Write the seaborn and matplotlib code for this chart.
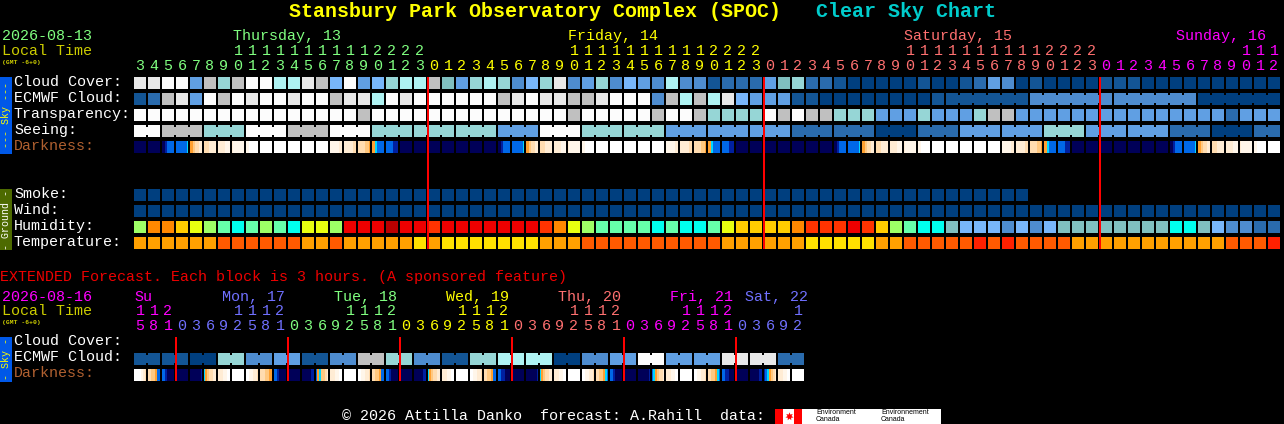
import numpy as np
import matplotlib
matplotlib.use('Agg')
import matplotlib.pyplot as plt
from matplotlib.colors import ListedColormap
from matplotlib.patches import Rectangle
import seaborn as sns

W, H = 1284, 424
PX = 72 / 100  # one pixel in points at dpi 100

# cell colours, one letter per block
palette = {
    'N': '#003f7f', 'M': '#135595', 'B': '#2a6bad', 'C': '#4e8ccf', 'D': '#609fe3', 'E': '#78b6fa',
    'T': '#80bfbf', 'U': '#96d6d6', 'V': '#aef2f2', 'G': '#c0c0c0', 'L': '#e8e8e8', 'W': '#fcfcfc',
    # humidity
    'f': '#9eff66', 'g': '#66ffaa', 'h': '#00ffee', 'i': '#e8ff10', 'j': '#ffcc00', 'k': '#ff8800',
    'l': '#ff3300', 'm': '#ee0000', 'n': '#bb0000',
    # temperature
    'x': '#ffa000', 'y': '#ff5a00', 'z': '#ffe000', 'X': '#ff2000',
    # darkness
    'a': '#000058', 'b': '#0020a0', 'c': '#0068e8', 'd': '#00d8ff', 'o': '#ffa030', 'p': '#ffc880',
    'q': '#ffdcb0', 'r': '#ffecd4', 's': '#fff6ea', 'w': '#ffffff',
}

hours_main = [3, 4, 5, 6, 7, 8, 9, 10, 11, 12, 13, 14, 15, 16, 17, 18, 19, 20, 21, 22, 23,
              0, 1, 2, 3, 4, 5, 6, 7, 8, 9, 10, 11, 12, 13, 14, 15, 16, 17, 18, 19, 20, 21, 22, 23,
              0, 1, 2, 3, 4, 5, 6, 7, 8, 9, 10, 11, 12, 13, 14, 15, 16, 17, 18, 19, 20, 21, 22, 23,
              0, 1, 2, 3, 4, 5, 6, 7, 8, 9, 10, 11, 12]
hours_ext = [15, 18, 21,
             0, 3, 6, 9, 12, 15, 18, 21,
             0, 3, 6, 9, 12, 15, 18, 21,
             0, 3, 6, 9, 12, 15, 18, 21,
             0, 3, 6, 9, 12, 15, 18, 21,
             0, 3, 6, 9, 12, 15, 18, 21,
             0, 3, 6, 9, 12]

GREEN, YELLOW, PINK, MAGENTA, BLUE = '#80ff80', '#ffff00', '#ff7070', '#ff00ff', '#7070ff'
colors_main = [GREEN, YELLOW, PINK, MAGENTA]
colors_ext = [MAGENTA, BLUE, GREEN, YELLOW, PINK, MAGENTA, BLUE]

cloud = 'LLWWDGUGWWVVLGEWDEUVV' 'GTDUVUCEULCDUCEDCVCCMBBB' 'DTUBBMNNNNNMNNMBDCNMNNNN' 'MMMNNNNNNNNNN'
ecmwf = 'MBGLDWGWLWWLWWGLLVWLW' 'WWWWWGLWLLGGLWWWCGVGVLED' 'DDMMNNNNNNNNMMMMMMMCCCCC' 'CCCCCCCNNNNNN'
transparency = 'WWWWWWWWWWWWWWWWGWWWW' 'WWWWWWWWWWGWWWWWGWWGUUUU' 'WGWGGUUUDDDUDDDUGGDDDDDD' 'DDDDDDDDDBDDD'
seeing = 'WWGGGUUUWWWGGGWWWUUUU' 'UUUUUDDDWWWUUUUUUDDDDDDD' 'DDBBBBBBNNNBBBDDDDDDUUUD' 'DDDDDBBBNNNBB'
smoke = 'NNNNNNNNNNNNNNNNNNNNN' 'NNNNNNNNNNNNNNNNNNNNNNNN' 'NNNNNNNNNNNNNNNNNNN.....' '.............'
wind = 'NNNNNNNNNNNNNNNNNNNNN' 'NNNNNNNNNNNNNNNNNNNNNNNN' 'NNNNNNNNNNNNNNNNNNNNNNNN' 'NNNNNNNNNNNNN'
humidity = 'fkkjifghgfghiifmmmnmm' 'lmmmmmmmlkifgggghghhgijj' 'jjklllmljfghhTEEECECETTT' 'TTTTThhTECCBB'
temperature = 'xxxxxxyyyyyyxxyxxxxxz' 'xzzzzzzzxxxyyyyyyyyyyxxx' 'xxxzzzzzxxyyyyyXyXyyyyxx' 'xxxxxxxxxyyyX'

# darkness has a gradient inside the block, so 7 values per block
darkness = """
aaaaaaa aaaaaaa aabcccc ccccccd oopqqrr qqqrrrr rrrrsss rssssss sswwwww wwwwwww wwwwwww wwwwwww wwwwwww wwwwwww
sssssrr rrrrrqq qqqqppo oodcccc ccccbbb aaaaaaa aaaaaaa
aaaaaaa aaaaaaa aaaaaaa aaaaaaa aaaaaaa aabcccc ccccccd oopqqrr qqqrrrr rrrrsss rssssss sswwwww
wwwwwww wwwwwww wwwwwww wwwwwww wwwwwww sssssrr rrrrrqq qqqqppo oodcccc ccccbbb aaaaaaa aaaaaaa
aaaaaaa aaaaaaa aaaaaaa aaaaaaa aaaaaaa aabcccc ccccccd oopqqrr qqqrrrr rrrrsss rssssss sswwwww
wwwwwww wwwwwww wwwwwww wwwwwww wwwwwww sssssrr rrrrrqq qqqqppo oodcccc ccccbbb aaaaaaa aaaaaaa
aaaaaaa aaaaaaa aaaaaaa aaaaaaa aaaaaaa aabcccc ccccccd oopqqrr qqqrrrr rrrrsss rssssss sswwwww wwwwwww
""".split()

cloud_ext = '................................................'
ecmwf_ext = 'MMMMNNUUCCDDMMCCGGUUCCMMUUVVVVNNCCDDWWDDDDLLLLBB'
darkness_ext = """
wwwwsrq qqppocc ccbaaaa aaaaaaa aaaaaab dopqqrr rrrssww wwwwwww
wwssrrq qqqppoo ccbaaaa aaaaaaa aaaaabb codppqr rrrssww wwwwwww
wwssrrq qqppocc ccbaaaa aaaaaaa aaaaabb dopqqrr rrrssww wwwwwww
wwssrrq qqppocc ccbbaaa aaaaaaa aaaaaab dopqqrr rrrssww wwwwwww
wwssrrq qqppodc ccbaaaa aaaaaaa aaaaaab cdopqqr rrrssww wwwwwww
wwssrrq qqppodc ccbbaaa aaaaaaa aaaaabb bcdopqr rrrssww wwwwwww
""".split()

seeing_groups = [2] + [3] * 26 + [2]
ecmwf_groups = [1] * 58 + [6, 6, 6, 6]
ecmwf_ext_groups = [2] * 24
midnights_main = [21, 45, 69]
midnights_ext = [3, 11, 19, 27, 35, 43]

letters = list(palette)
cmap = ListedColormap([palette[k] for k in letters])


def codes(text):
    return np.array([letters.index(c) if c != '.' else -1 for c in text], dtype=float)


def px_axes(x, y, w, h):
    ax = fig.add_axes([x / W, 1 - (y + h) / H, w / W, h / H])
    ax.patch.set_alpha(0)
    return ax


def gaps(ax, positions):
    ax.vlines(positions, 0, 1, color='black', lw=2 * PX, capstyle='butt', zorder=3)


def heat_row(top, text, ticks=None, tick_colors=None, pad=0):
    v = codes(text)[None, :]
    ax = px_axes(133, top, 14 * len(text), 12)
    sns.heatmap(v, mask=v < 0, cmap=cmap, vmin=-0.5, vmax=len(letters) - 0.5, cbar=False, ax=ax,
                yticklabels=False, xticklabels=ticks if ticks is not None else False)
    gaps(ax, np.arange(len(text) + 1))
    if ticks is not None:
        ax.tick_params(axis='x', length=0, pad=pad, top=False, bottom=False, labeltop=True, labelbottom=False)
        for lab, col in zip(ax.get_xticklabels(), tick_colors):
            lab.set_color(col)
            lab.set_rotation(0)
            lab.set_fontsize(10.8)
            lab.set_linespacing(1.05)
    return ax


def link_blocks(ax, text, groups):
    # blocks of one forecast step are joined by a bar through the gap
    i = 0
    for g in groups:
        for j in range(i + 1, i + g):
            ax.vlines(j, 2 / 12, 10 / 12, color=palette[text[j]], lw=2 * PX, capstyle='butt', zorder=4)
        i += g


def dark_row(top, cells):
    sub = [c for cell in cells for c in cell]
    v = codes(sub)[None, :]
    ax = px_axes(133, top, 14 * len(cells), 12)
    sns.heatmap(v, cmap=cmap, vmin=-0.5, vmax=len(letters) - 0.5, cbar=False, ax=ax,
                xticklabels=False, yticklabels=False)
    gaps(ax, np.arange(0, len(cells) + 1) * 7)
    return ax


def hour_labels(hours, day_colors):
    labs, cols, day = [], [], 0
    for i, h in enumerate(hours):
        if i > 0 and h < hours[i - 1]:
            day += 1
        labs.append(f'{h // 10}\n{h % 10}' if h >= 10 else str(h))
        cols.append(day_colors[day])
    return labs, cols


sns.set_style('dark')
plt.rcParams['font.family'] = ['Liberation Mono', 'DejaVu Sans Mono']
plt.rcParams['axes.linewidth'] = 0

fig = plt.figure(figsize=(W / 100, H / 100), dpi=100, facecolor='black')

# main block
labs, cols = hour_labels(hours_main, colors_main)
heat_row(77, cloud, labs, cols, pad=3.2)
ax = heat_row(93, ecmwf)
link_blocks(ax, ecmwf, ecmwf_groups)
heat_row(109, transparency)
ax = heat_row(125, seeing)
link_blocks(ax, seeing, seeing_groups)
dark_row(141, darkness)
heat_row(189, smoke)
heat_row(205, wind)
heat_row(221, humidity)
heat_row(237, temperature)

# extended block
labs, cols = hour_labels(hours_ext, colors_ext)
heat_row(337, cloud_ext, labs, cols, pad=3.2)
ax = heat_row(353, ecmwf_ext)
link_blocks(ax, ecmwf_ext, ecmwf_ext_groups)
dark_row(369, darkness_ext)

# red midnight lines on the same column scale
red = px_axes(134, 77, 14 * 82, 172)
red.set_xlim(0, 82)
red.set_ylim(0, 1)
red.vlines(midnights_main, 0, 1, color='#ff0000', lw=2 * PX, capstyle='butt')
red.axis('off')
red = px_axes(134, 337, 14 * 48, 44)
red.set_xlim(0, 48)
red.set_ylim(0, 1)
red.vlines(midnights_ext, 0, 1, color='#ff0000', lw=2 * PX, capstyle='butt')
red.axis('off')

# texts, side bars and footer in pixel coordinates
ax = px_axes(0, 0, W, H)
ax.set_xlim(0, W)
ax.set_ylim(H, 0)
ax.axis('off')


def txt(x, y, s, color='white', size=10.8, **kw):
    ax.text(x, y, s, color=color, fontsize=size, va='center', ha=kw.pop('ha', 'left'), **kw)


txt(289, 11.5, 'Stansbury Park Observatory Complex (SPOC)', '#ffff00', 14.4, fontweight='bold')
txt(816, 11.5, 'Clear Sky Chart', '#00cccc', 14.4, fontweight='bold')

txt(2, 36, '2026-08-13', GREEN)
txt(2, 51, 'Local Time', '#cccc00')
txt(2, 62.5, '(GMT -6+0)', '#cccc00', 4.6, fontweight='bold')
txt(233, 36, 'Thursday, 13', GREEN)
txt(568, 36, 'Friday, 14', YELLOW)
txt(904, 36, 'Saturday, 15', PINK)
txt(1176, 36, 'Sunday, 16', MAGENTA)

for y, s, c in [(82, 'Cloud Cover:', 'white'), (98, 'ECMWF Cloud:', 'white'), (114, 'Transparency:', 'white'),
                (130, 'Seeing:', 'white'), (146, 'Darkness:', '#b06030'), (194, 'Smoke:', 'white'),
                (210, 'Wind:', 'white'), (226, 'Humidity:', 'white'), (242, 'Temperature:', 'white'),
                (341, 'Cloud Cover:', 'white'), (357, 'ECMWF Cloud:', 'white'), (373, 'Darkness:', '#b06030')]:
    txt(14, y, s, c)

txt(0, 277, 'EXTENDED Forecast. Each block is 3 hours. (A sponsored feature)', '#ee0000')
txt(2, 297, '2026-08-16', MAGENTA)
txt(2, 311, 'Local Time', '#cccc00')
txt(2, 322.5, '(GMT -6+0)', '#cccc00', 4.6, fontweight='bold')
for x, s, c in [(134, 'Su', MAGENTA), (222, 'Mon, 17', BLUE), (334, 'Tue, 18', GREEN),
                (446, 'Wed, 19', YELLOW), (558, 'Thu, 20', PINK), (670, 'Fri, 21', MAGENTA),
                (745, 'Sat, 22', BLUE)]:
    txt(x, 297, s, c)

for y0, y1, col, s, tc in [(77, 154, '#0058e8', '--- Sky ---', '#ffff00'), (189, 250, '#4d6a00', '- Ground -', 'white'),
                           (337, 382, '#0058e8', '- Sky -', '#ffff00')]:
    ax.add_patch(Rectangle((0, y0), 12, y1 - y0, color=col, lw=0))
    ax.text(6, (y0 + y1) / 2, s, color=tc, fontsize=7.2, rotation=90, ha='center', va='center')

txt(342, 416, '© 2026 Attilla Danko  forecast: A.Rahill  data:')
ax.add_patch(Rectangle((775, 409), 166, 15, color='white', lw=0))
ax.add_patch(Rectangle((775, 409), 8, 15, color='#ff0000', lw=0))
ax.add_patch(Rectangle((794, 409), 8, 15, color='#ff0000', lw=0))
ax.scatter([789], [416], marker=(7, 1), s=36, color='#ff0000', lw=0)
ax.text(816, 416, 'Environment\nCanada', color='black', fontsize=5, va='center', linespacing=1.0,
        family=['Liberation Sans'])
ax.text(881, 416, 'Environnement\nCanada', color='black', fontsize=5, va='center', linespacing=1.0,
        family=['Liberation Sans'])

fig.savefig('out.png', dpi=100, facecolor='black')
